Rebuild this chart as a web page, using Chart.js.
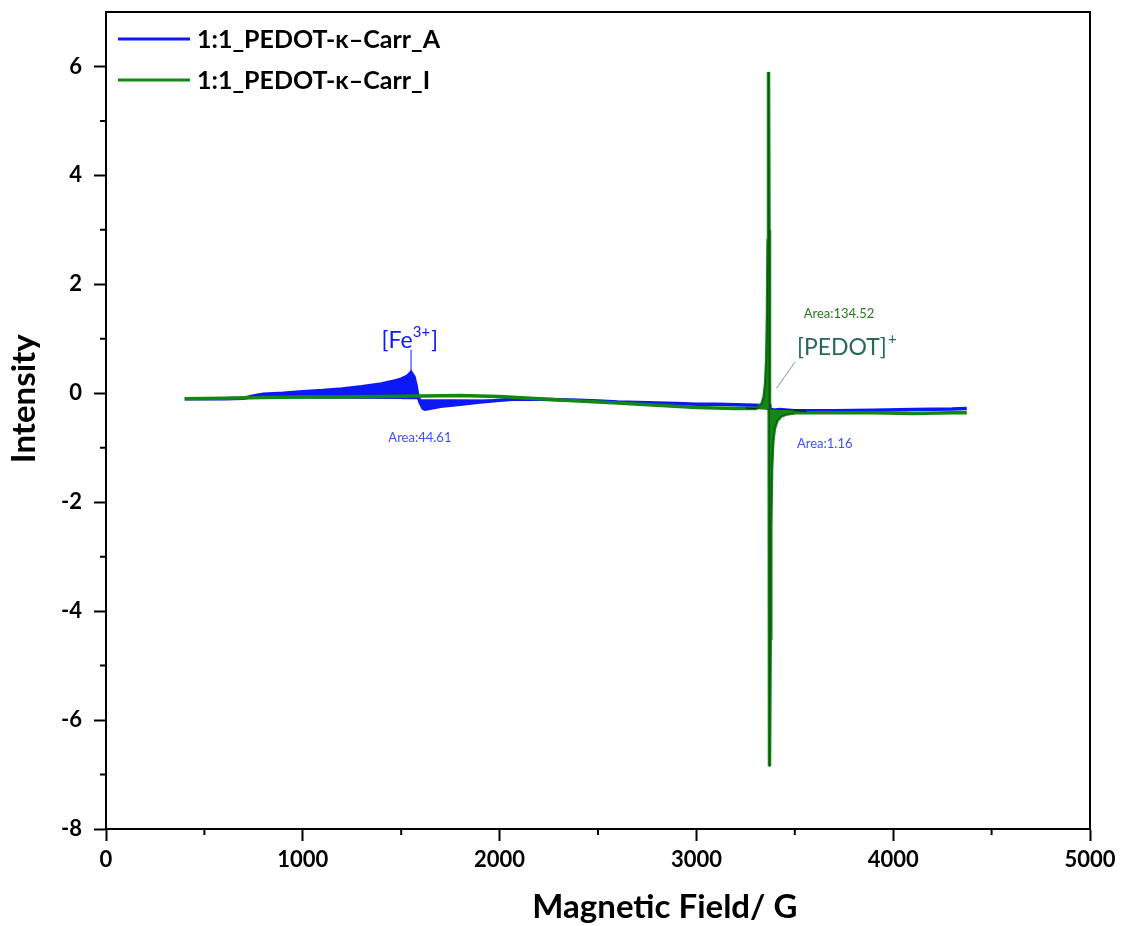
<!DOCTYPE html>
<html>
<head>
<meta charset="utf-8">
<script src="https://cdn.jsdelivr.net/npm/chart.js@4.4.1/dist/chart.umd.min.js"></script>
<style>
  body { margin: 0; background: #fff; }
</style>
</head>
<body>
<canvas id="eprChart" width="1124" height="926"></canvas>
<script>
const seriesNames = ['1:1_PEDOT-κ–Carr_A', '1:1_PEDOT-κ–Carr_I'];
const xTitle = 'Magnetic Field/ G';
const yTitle = 'Intensity';

// series A (blue)
const fieldA = [400, 500, 600, 700, 750, 800, 900, 1000, 1100, 1200, 1300, 1400, 1450, 1500, 1530, 1550, 1565, 1575, 1582, 1595, 1610, 1620, 1640, 1700, 1800, 1900, 2000, 2065, 2200, 2300, 2400, 2500, 2600, 2700, 2800, 2900, 3000, 3100, 3200, 3300, 3340, 3355, 3362, 3366, 3370, 3373, 3378, 3385, 3395, 3420, 3500, 3700, 3900, 4100, 4300, 4374];
const intensityA = [-0.1, -0.1, -0.1, -0.09, -0.05, -0.02, 0.0, 0.03, 0.05, 0.08, 0.12, 0.17, 0.21, 0.26, 0.31, 0.38, 0.3, 0.15, 0.0, -0.16, -0.27, -0.29, -0.28, -0.24, -0.2, -0.16, -0.13, -0.11, -0.11, -0.12, -0.13, -0.14, -0.16, -0.17, -0.18, -0.19, -0.2, -0.2, -0.21, -0.22, -0.23, -0.2, -0.12, -0.07, -0.2, -0.37, -0.33, -0.3, -0.31, -0.3, -0.32, -0.32, -0.31, -0.3, -0.29, -0.28];

// series I (green)
const fieldI = [400, 600, 800, 1000, 1200, 1400, 1600, 1800, 2000, 2200, 2400, 2600, 2800, 3000, 3200, 3300, 3320, 3335, 3345, 3352, 3357, 3361, 3364, 3366, 3367, 3369, 3370, 3371, 3372, 3373, 3375, 3378, 3382, 3388, 3396, 3410, 3430, 3460, 3500, 3700, 3900, 4100, 4300, 4374];
const intensityI = [-0.1, -0.09, -0.08, -0.07, -0.07, -0.06, -0.05, -0.04, -0.06, -0.1, -0.14, -0.18, -0.22, -0.26, -0.28, -0.28, -0.25, -0.18, -0.05, 0.2, 0.6, 1.4, 2.8, 4.5, 5.9, 3.0, 0.5, -2.0, -5.0, -6.85, -4.5, -2.5, -1.4, -0.9, -0.65, -0.5, -0.42, -0.38, -0.36, -0.36, -0.36, -0.37, -0.36, -0.36];

// integration baselines
const feBaseField = [700, 2350];
const feBaseIntensity = [-0.09, -0.12];
const pedotBaseField = [3250, 3560];
const pedotBaseIntensity = [-0.27, -0.33];

const xTicks = [0, 1000, 2000, 3000, 4000, 5000];
const yTicks = [-8, -6, -4, -2, 0, 2, 4, 6];

const BLUE = 'rgb(12,24,245)';
const GREEN = 'rgb(18,135,22)';
const FONT = 'Lato';

function pts(xs, ys, lo, hi) {
    const out = [];
    xs.forEach((x, i) => {
        if (lo === undefined || (x >= lo && x <= hi)) out.push({ x: x, y: ys[i] });
    });
    return out;
}

const framePlugin = {
    id: 'frame',
    afterDraw(chart) {
        const ctx = chart.ctx;
        const a = chart.chartArea;
        const sx = chart.scales.x, sy = chart.scales.y;
        const X = v => sx.getPixelForValue(v);
        const Y = v => sy.getPixelForValue(v);
        ctx.save();
        ctx.strokeStyle = '#000';
        ctx.lineWidth = 2;
        ctx.beginPath();
        ctx.moveTo(a.left, a.top);
        ctx.lineTo(a.right, a.top);
        ctx.lineTo(a.right, a.bottom);
        ctx.stroke();

        // minor ticks
        ctx.beginPath();
        for (let i = 0; i < xTicks.length - 1; i++) {
            const px = X((xTicks[i] + xTicks[i + 1]) / 2);
            ctx.moveTo(px, a.bottom);
            ctx.lineTo(px, a.bottom + 6);
        }
        for (let i = 0; i < yTicks.length - 1; i++) {
            const py = Y((yTicks[i] + yTicks[i + 1]) / 2);
            ctx.moveTo(a.left, py);
            ctx.lineTo(a.left - 6, py);
        }
        ctx.stroke();

        // axis titles
        ctx.fillStyle = '#000';
        ctx.font = 'bold 33px ' + FONT;
        ctx.textAlign = 'center';
        ctx.textBaseline = 'middle';
        ctx.fillText(xTitle, X(2840), 907);
        ctx.save();
        ctx.translate(24, Y(-0.1));
        ctx.rotate(-Math.PI / 2);
        ctx.fillText(yTitle, 0, 0);
        ctx.restore();

        // legend
        ctx.textAlign = 'left';
        ctx.font = 'bold 25px ' + FONT;
        [BLUE, GREEN].forEach((c, i) => {
            const ly = a.top + 27 + i * 41;
            ctx.strokeStyle = c;
            ctx.lineWidth = 3;
            ctx.beginPath();
            ctx.moveTo(a.left + 12, ly);
            ctx.lineTo(a.left + 84, ly);
            ctx.stroke();
            ctx.fillStyle = '#000';
            ctx.fillText(seriesNames[i], a.left + 91, ly + 1);
        });

        // [Fe3+]
        ctx.strokeStyle = BLUE;
        ctx.lineWidth = 1;
        ctx.beginPath();
        ctx.moveTo(X(1550), Y(0.38));
        ctx.lineTo(X(1550), Y(0.8));
        ctx.stroke();
        ctx.fillStyle = BLUE;
        ctx.font = '23px ' + FONT;
        let tx = X(1400);
        const feY = Y(0.97);
        ctx.fillText('[Fe', tx, feY);
        tx += ctx.measureText('[Fe').width;
        ctx.font = '15px ' + FONT;
        ctx.fillText('3+', tx, feY - 8);
        tx += ctx.measureText('3+').width + 1;
        ctx.font = '23px ' + FONT;
        ctx.fillText(']', tx, feY);

        ctx.font = '13px ' + FONT;
        ctx.fillStyle = 'rgb(60,80,255)';
        ctx.textAlign = 'center';
        ctx.fillText('Area:44.61', X(1595), Y(-0.81));
        ctx.textAlign = 'left';
        ctx.fillText('Area:1.16', X(3511), Y(-0.92));
        ctx.fillStyle = 'rgb(40,120,30)';
        ctx.fillText('Area:134.52', X(3545), Y(1.45));

        // [PEDOT]+
        ctx.strokeStyle = 'rgb(110,160,150)';
        ctx.beginPath();
        ctx.moveTo(X(3500), Y(0.57));
        ctx.lineTo(X(3407), Y(0.09));
        ctx.stroke();
        ctx.fillStyle = 'rgb(40,105,85)';
        ctx.font = '23px ' + FONT;
        let px2 = X(3511);
        const pY = Y(0.83);
        ctx.fillText('[PEDOT]', px2, pY);
        px2 += ctx.measureText('[PEDOT]').width + 1;
        ctx.font = '15px ' + FONT;
        ctx.fillText('+', px2, pY - 9);
        ctx.restore();
    }
};

new Chart(document.getElementById('eprChart').getContext('2d'), {
    type: 'line',
    data: {
        datasets: [
            {
                // PEDOT spike integration fill (green)
                data: pts(fieldI, intensityI, 3300, 3500),
                borderColor: 'rgb(15,85,15)',
                borderWidth: 1,
                backgroundColor: GREEN,
                fill: 5,
                pointRadius: 0,
                order: 0
            },
            {
                // small blue feature fill
                data: pts(fieldA, intensityA, 3340, 3420),
                borderColor: 'rgb(20,20,120)',
                borderWidth: 1,
                backgroundColor: BLUE,
                fill: 5,
                pointRadius: 0,
                order: 1
            },
            {
                label: seriesNames[1],
                data: pts(fieldI, intensityI),
                borderColor: GREEN,
                borderWidth: 3.5,
                pointRadius: 0,
                fill: false,
                order: 2
            },
            {
                label: seriesNames[0],
                data: pts(fieldA, intensityA),
                borderColor: BLUE,
                borderWidth: 3.5,
                pointRadius: 0,
                fill: false,
                order: 3
            },
            {
                // Fe3+ integration fill
                data: pts(fieldA, intensityA, 700, 2350),
                borderColor: 'rgb(110,110,215)',
                borderWidth: 1.5,
                backgroundColor: BLUE,
                fill: 6,
                pointRadius: 0,
                order: 4
            },
            {
                // PEDOT baseline
                data: pts(pedotBaseField, pedotBaseIntensity),
                borderColor: '#111',
                borderWidth: 1,
                pointRadius: 0,
                fill: false,
                order: 0.5
            },
            {
                // Fe baseline (invisible)
                data: pts(feBaseField, feBaseIntensity),
                borderColor: 'rgba(0,0,0,0)',
                borderWidth: 0,
                pointRadius: 0,
                fill: false,
                order: 5
            }
        ]
    },
    options: {
        responsive: false,
        animation: false,
        layout: { padding: { top: 12, right: 34, left: 0, bottom: 0 } },
        plugins: {
            legend: { display: false },
            tooltip: { enabled: false }
        },
        scales: {
            x: {
                type: 'linear',
                min: 0,
                max: 5000,
                afterFit: s => { s.height = 97; s.paddingLeft = 0; s.paddingRight = 0; },
                ticks: {
                    stepSize: 1000,
                    padding: 6,
                    color: '#000',
                    callback: v => String(v),
                    font: { family: FONT, size: 22, weight: 'bold' }
                },
                grid: { drawOnChartArea: false, tickLength: 12, tickWidth: 2, tickColor: '#000' },
                border: { color: '#000', width: 2 }
            },
            y: {
                min: -8,
                max: 7,
                afterFit: s => { s.width = 106; s.paddingTop = 0; s.paddingBottom = 0; },
                ticks: {
                    stepSize: 2,
                    includeBounds: false,
                    padding: 12,
                    color: '#000',
                    font: { family: FONT, size: 22, weight: 'bold' }
                },
                grid: { drawOnChartArea: false, tickLength: 12, tickWidth: 2, tickColor: '#000' },
                border: { color: '#000', width: 2 }
            }
        }
    },
    plugins: [framePlugin]
});
</script>
</body>
</html>
